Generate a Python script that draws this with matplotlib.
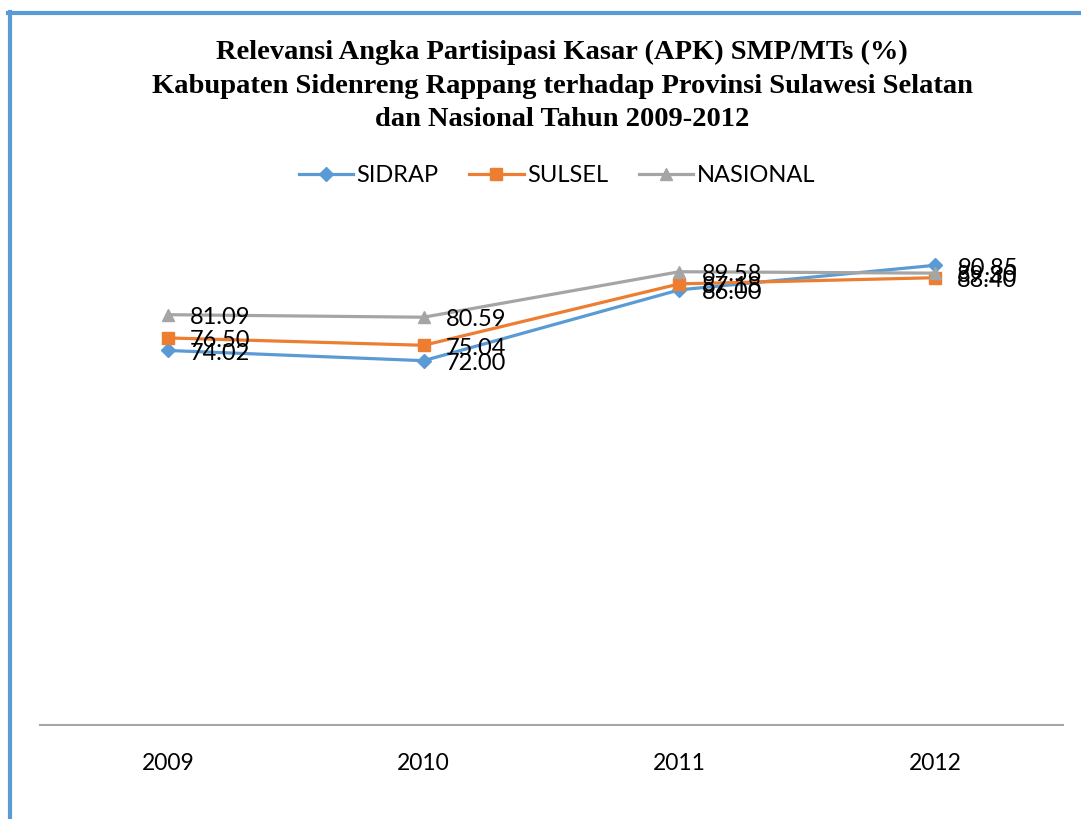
import matplotlib
matplotlib.use('Agg')
import matplotlib.pyplot as plt
from matplotlib.lines import Line2D

# data
years = ['2009', '2010', '2011', '2012']
sidrap = [74.02, 72.00, 86.00, 90.85]
sulsel = [76.50, 75.04, 87.18, 88.40]
nasional = [81.09, 80.59, 89.58, 89.30]

series_names = ['SIDRAP', 'SULSEL', 'NASIONAL']
colors = ['#5B9BD5', '#ED7D31', '#A5A5A5']
markers = ['D', 's', '^']
msizes = [7, 9, 9]

SANS = ['Lato', 'DejaVu Sans']

W, H = 1081, 819
fig = plt.figure(figsize=(W / 100, H / 100), dpi=100)

# outer blue frame (left + top)
fig.add_artist(Line2D([9.5 / W, 9.5 / W], [0, 1 - 12 / H], color='#5B9BD5', lw=3,
                      transform=fig.transFigure))
fig.add_artist(Line2D([8 / W, 1], [1 - 12.5 / H, 1 - 12.5 / H], color='#5B9BD5', lw=3,
                      transform=fig.transFigure))

ax = fig.add_axes([40 / W, 1 - 725 / H, (1063 - 40) / W, (725 - 219) / H])
x = list(range(len(years)))
for vals, name, c, m, ms in zip([sidrap, sulsel, nasional], series_names, colors, markers, msizes):
    ax.plot(x, vals, color=c, lw=2.3, marker=m, markersize=ms, label=name, zorder=3)
    for xi, v in zip(x, vals):
        ax.annotate(f'{v:.2f}', (xi, v), xytext=(16, -2), textcoords='offset points',
                    ha='left', va='center', fontsize=17, family=SANS,
                    color='#000000', zorder=4)

ax.set_xlim(-0.5, 3.5)
ax.set_ylim(0, 100)
ax.set_xticks(x)
ax.set_xticklabels(years, fontsize=16.5, family=SANS)
ax.tick_params(axis='x', length=0, pad=20)
ax.set_yticks([])
for s in ['top', 'right', 'left']:
    ax.spines[s].set_visible(False)
ax.spines['bottom'].set_color('#A6A6A6')
ax.spines['bottom'].set_linewidth(1.5)

fig.text(562 / W, 1 - 86 / H,
         'Relevansi Angka Partisipasi Kasar (APK) SMP/MTs (%)\n'
         'Kabupaten Sidenreng Rappang terhadap Provinsi Sulawesi Selatan\n'
         'dan Nasional Tahun 2009-2012',
         ha='center', va='center', fontsize=20.5, fontweight='bold',
         family='Liberation Serif', linespacing=1.46)

leg = fig.legend(loc='center', bbox_to_anchor=(557 / W, 1 - 176 / H), ncol=3, frameon=False,
                 prop={'family': SANS, 'size': 17}, handlelength=2.3,
                 columnspacing=1.3, handletextpad=0.15)

fig.savefig('out.png', dpi=100)
